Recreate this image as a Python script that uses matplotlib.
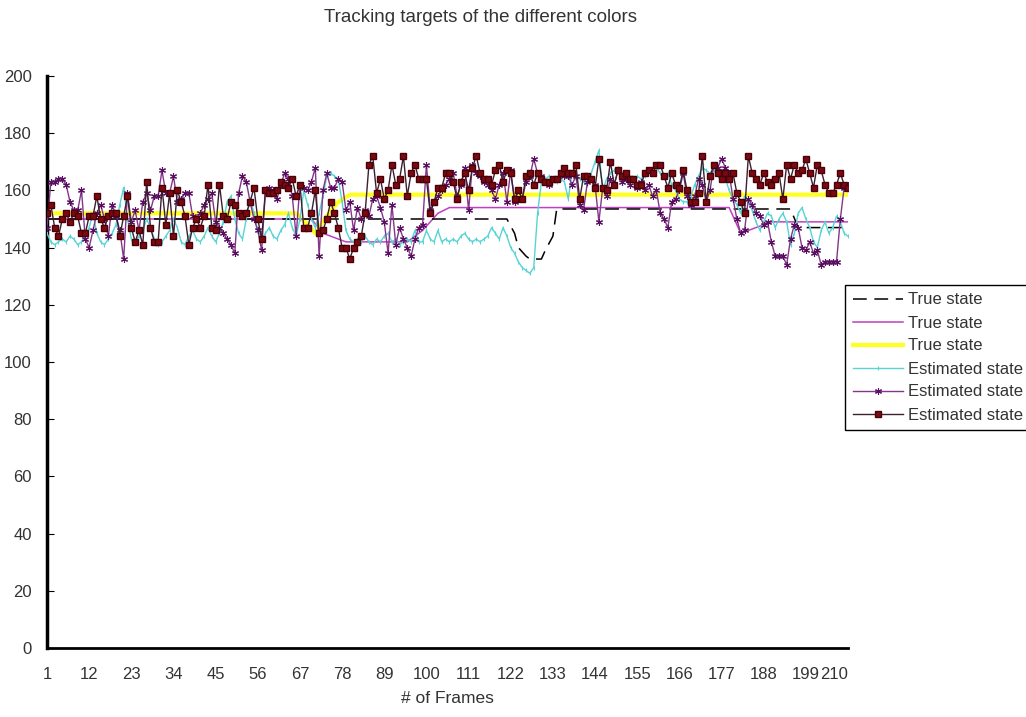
import matplotlib
matplotlib.use('Agg')
import matplotlib.pyplot as plt

plt.rcParams['font.family'] = ['Liberation Sans', 'DejaVu Sans']

# frame index for the estimated series
frames = list(range(1, 211))

# true states (breakpoints)
true_black_f = [1, 121, 123, 124, 126, 127, 130, 131, 133, 134, 195, 197, 210]
true_black_v = [150, 150, 145, 140, 137, 136, 136, 139, 144, 153.5, 153.5, 147, 147]

true_magenta_f = [1, 70, 73, 79, 95, 97, 99, 101, 103, 106, 179, 182, 186, 190, 210]
true_magenta_v = [150, 150, 145, 142, 142, 144, 146, 149, 152, 154, 154, 145, 147, 149, 149]

true_yellow_f = [1, 66, 69, 71, 74, 77, 80, 210]
true_yellow_v = [152, 152, 148, 145, 151, 156, 158.5, 158.5]

# estimated states, one value per frame
est_cyan = [
    145, 142, 141, 142, 143, 142, 144, 143, 141, 142,
    144, 147, 152, 145, 142, 141, 143, 145, 148, 155,
    161, 150, 143, 142, 144, 146, 150, 147, 143, 141,
    142, 144, 146, 150, 147, 142, 141, 144, 146, 143,
    142, 144, 147, 144, 142, 145, 149, 156, 158, 150,
    145, 143, 150, 157, 152, 146, 143, 145, 147, 144,
    143, 146, 148, 152, 147, 144, 150, 160, 155, 150,
    147, 152, 158, 165, 166, 165, 164, 156, 146, 143,
    142, 143, 142, 144, 142, 141, 143, 142, 144, 145,
    142, 143, 141, 142, 143, 142, 146, 142, 142, 146,
    143, 142, 146, 142, 143, 142, 143, 142, 144, 145,
    143, 142, 143, 142, 143, 144, 147, 145, 143, 147,
    144, 140, 138, 135, 133, 132, 131, 133, 152, 163,
    164, 165, 164, 163, 164, 163, 157, 166, 165, 164,
    163, 162, 166, 170, 174, 160, 164, 166, 167, 168,
    166, 164, 163, 164, 165, 164, 165, 167, 166, 168,
    166, 165, 166, 162, 160, 157, 156, 156, 158, 162,
    165, 168, 167, 166, 167, 165, 166, 164, 160, 157,
    155, 152, 158, 156, 153, 149, 146, 149, 152, 151,
    147, 150, 152, 149, 141, 145, 152, 154, 150, 147,
    142, 140, 146, 149, 145, 147, 151, 149, 145, 144,
]

est_purple = [
    147, 163, 163, 164, 164, 162, 156, 153, 153, 160,
    143, 140, 146, 152, 155, 150, 144, 155, 151, 146,
    136, 159, 149, 153, 146, 156, 159, 153, 158, 158,
    167, 159, 159, 165, 156, 157, 159, 159, 151, 150,
    152, 155, 157, 159, 149, 147, 145, 143, 141, 138,
    159, 165, 163, 156, 150, 146, 139, 160, 161, 160,
    157, 162, 166, 164, 158, 144, 162, 161, 160, 163,
    168, 137, 160, 166, 161, 161, 164, 163, 153, 156,
    146, 154, 150, 153, 151, 157, 158, 154, 149, 138,
    155, 141, 147, 143, 140, 137, 143, 147, 148, 169,
    153, 156, 158, 160, 162, 164, 166, 158, 162, 168,
    153, 169, 166, 165, 163, 162, 160, 157, 162, 166,
    156, 167, 156, 160, 157, 163, 165, 171, 166, 165,
    163, 162, 164, 164, 166, 165, 165, 162, 165, 155,
    153, 163, 164, 162, 149, 161, 158, 164, 162, 167,
    163, 164, 162, 164, 161, 163, 160, 162, 158, 160,
    152, 150, 147, 156, 157, 160, 166, 158, 155, 158,
    164, 162, 156, 160, 169, 168, 171, 168, 166, 157,
    150, 145, 146, 157, 155, 152, 151, 148, 149, 142,
    137, 137, 137, 134, 143, 148, 147, 140, 139, 142,
    138, 139, 134, 135, 135, 135, 135, 150, 161, 162,
]

est_red = [
    152, 155, 147, 144, 150, 152, 149, 152, 151, 145,
    145, 151, 151, 158, 150, 147, 151, 152, 152, 144,
    151, 158, 147, 142, 146, 141, 163, 147, 142, 142,
    161, 148, 159, 144, 160, 156, 151, 141, 147, 150,
    147, 151, 162, 147, 146, 162, 151, 150, 156, 155,
    152, 151, 152, 156, 161, 150, 143, 160, 159, 159,
    160, 163, 162, 161, 164, 158, 162, 147, 147, 152,
    160, 145, 146, 150, 156, 152, 147, 140, 140, 136,
    140, 142, 144, 152, 169, 172, 159, 164, 157, 160,
    169, 162, 164, 172, 158, 166, 169, 164, 164, 164,
    152, 156, 161, 161, 166, 166, 163, 157, 163, 166,
    160, 168, 172, 166, 164, 164, 162, 167, 169, 163,
    167, 166, 157, 160, 157, 165, 166, 162, 166, 164,
    163, 163, 164, 164, 166, 168, 166, 166, 169, 157,
    165, 165, 164, 161, 171, 161, 160, 170, 162, 167,
    165, 166, 164, 164, 162, 162, 166, 167, 166, 169,
    169, 165, 161, 166, 162, 161, 167, 160, 156, 156,
    159, 172, 156, 165, 169, 166, 164, 166, 164, 166,
    159, 156, 152, 172, 166, 164, 162, 166, 163, 162,
    164, 166, 157, 169, 164, 169, 166, 167, 171, 166,
    161, 169, 167, 162, 159, 159, 162, 166, 162, 161,
]

x_ticks = [1, 12, 23, 34, 45, 56, 67, 78, 89, 100, 111, 122, 133, 144, 155,
           166, 177, 188, 199, 210]
y_ticks = [0, 20, 40, 60, 80, 100, 120, 140, 160, 180, 200]

txt = '#333333'

fig = plt.figure(figsize=(10.26, 7.17), dpi=100)
ax = fig.add_axes([47 / 1026, 69 / 717, 801 / 1026, 572 / 717])

ax.plot(true_black_f, true_black_v, color='black', lw=1.1,
        dashes=(9, 5), label='True state', zorder=3)
ax.plot(true_magenta_f, true_magenta_v, color='#c040c0', lw=1.1,
        label='True state', zorder=2)
ax.plot(true_yellow_f, true_yellow_v, color='#ffff20', lw=3,
        label='True state', zorder=1)
ax.plot(frames, est_cyan, color='#58d4d4', lw=1, marker='|', ms=3,
        mew=0.8, label='Estimated state', zorder=4)
ax.plot(frames, est_purple, color='#84368a', lw=1, marker=(6, 2, 0), ms=5,
        mec='#5a1060', mew=0.8, label='Estimated state', zorder=5)
ax.plot(frames, est_red, color='#3a2030', lw=1, marker='s', ms=4,
        mfc='#7a0a10', mec='#4a0008', label='Estimated state', zorder=6)

ax.set_xlim(1, 210)
ax.set_ylim(0, 200)
ax.set_xticks(x_ticks)
ax.set_yticks(y_ticks)

for s in ['top', 'right']:
    ax.spines[s].set_visible(False)
ax.spines['left'].set_linestyle((0, (1, 1)))
ax.spines['left'].set_linewidth(2.5)
ax.spines['bottom'].set_linestyle((0, (1, 1)))
ax.spines['bottom'].set_linewidth(2)

ax.tick_params(axis='y', direction='in', length=5, pad=11, labelsize=12,
               labelcolor=txt)
ax.tick_params(axis='x', direction='in', length=0, pad=14, labelsize=12,
               labelcolor=txt)
# last frame label sits flush against the end of the axis
ax.get_xticklabels()[-1].set_horizontalalignment('right')

ax.set_xlabel('# of Frames', fontsize=12.5, color=txt, labelpad=6)
fig.text(481 / 1026, 1 - 18 / 717, 'Tracking targets of the different colors',
         ha='center', va='center', fontsize=13.5, color=txt)

ax.legend(loc='upper left', bbox_to_anchor=(845 / 1026, 1 - 285 / 717),
          bbox_transform=fig.transFigure, borderaxespad=0, fontsize=12,
          handlelength=3.0, handletextpad=0.3, labelspacing=0.48,
          borderpad=0.45, fancybox=False, edgecolor='black', framealpha=1,
          labelcolor=txt)

fig.savefig('out.png', dpi=100)
